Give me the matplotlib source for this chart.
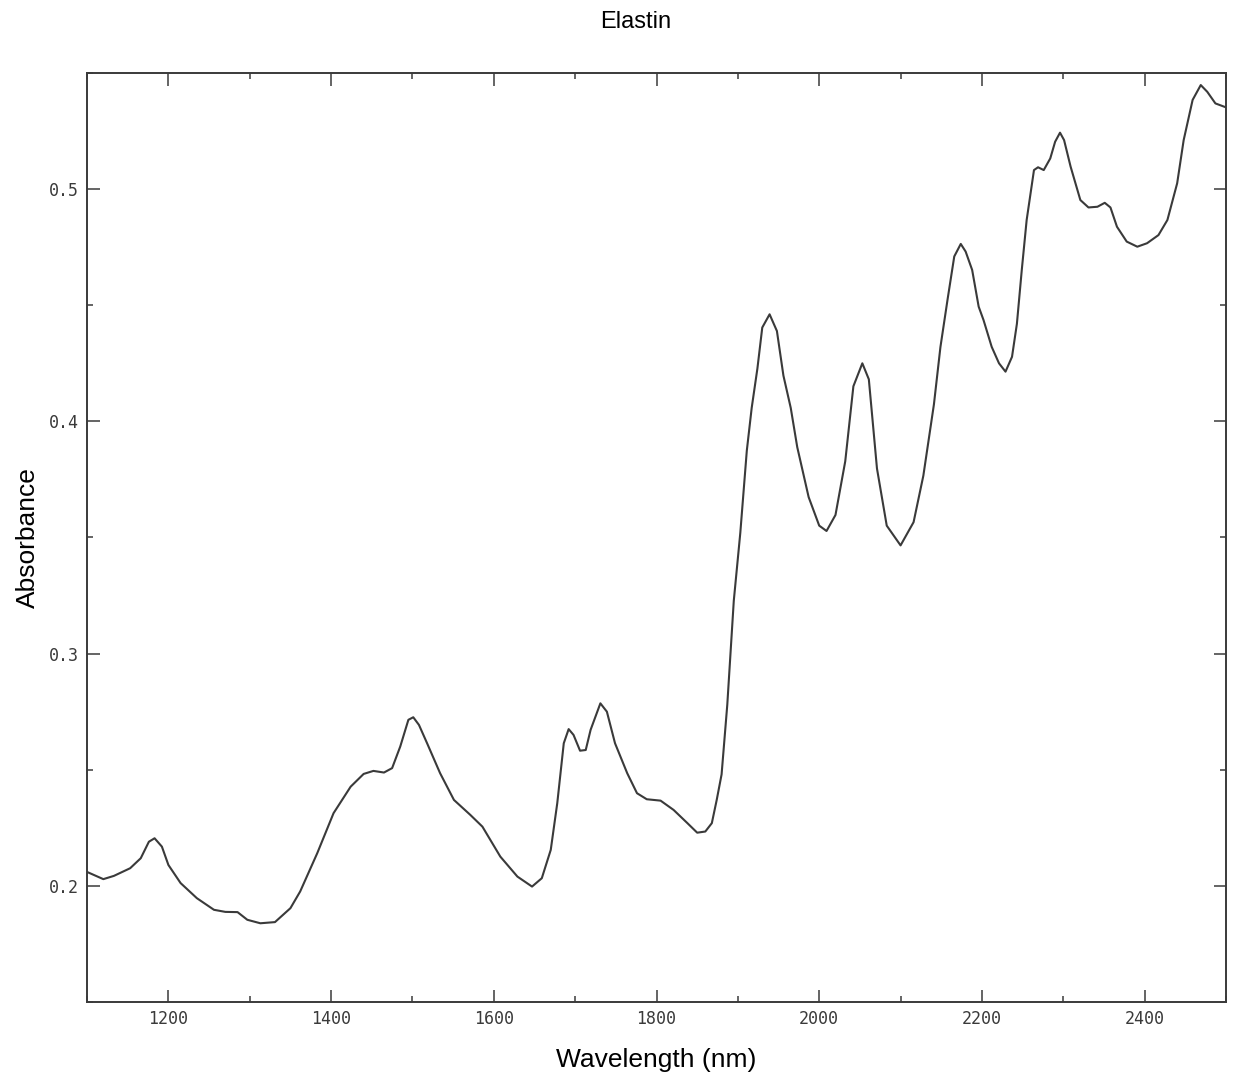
import matplotlib
matplotlib.use("Agg")
import matplotlib.pyplot as plt
from matplotlib.ticker import MultipleLocator

# spectrum (nm, absorbance)
wavelength = [1100, 1120, 1133, 1153, 1166, 1176, 1183, 1192, 1200, 1215,
              1235, 1256, 1270, 1285, 1297, 1313, 1331, 1350, 1362, 1383,
              1403, 1424, 1440, 1452, 1465, 1475, 1485, 1495, 1501, 1508,
              1518, 1534, 1551, 1571, 1586, 1608, 1629, 1647, 1659, 1670,
              1678, 1686, 1692, 1698, 1706, 1713, 1719, 1731, 1739, 1749,
              1764, 1776, 1788, 1805, 1821, 1838, 1850, 1860, 1868, 1874,
              1880, 1887, 1895, 1903, 1911, 1917, 1924, 1930, 1939, 1948,
              1956, 1965, 1973, 1979, 1987, 2000, 2009, 2020, 2032, 2042,
              2053, 2061, 2071, 2083, 2100, 2116, 2128, 2141, 2149, 2158,
              2166, 2174, 2180, 2188, 2196, 2202, 2212, 2221, 2229, 2237,
              2243, 2249, 2255, 2264, 2269, 2276, 2284, 2290, 2296, 2301,
              2309, 2321, 2331, 2342, 2351, 2358, 2366, 2378, 2391, 2403,
              2417, 2428, 2440, 2448, 2459, 2469, 2477, 2487, 2500]
absorbance = [0.2060, 0.2029, 0.2043, 0.2076, 0.2119, 0.2190, 0.2205, 0.2169, 0.2090, 0.2012,
              0.1947, 0.1897, 0.1888, 0.1887, 0.1854, 0.1839, 0.1844, 0.1904, 0.1976, 0.2141,
              0.2313, 0.2427, 0.2482, 0.2495, 0.2488, 0.2507, 0.2600, 0.2715, 0.2726, 0.2693,
              0.2614, 0.2485, 0.2370, 0.2306, 0.2255, 0.2126, 0.2040, 0.1997, 0.2033, 0.2155,
              0.2356, 0.2614, 0.2675, 0.2650, 0.2582, 0.2585, 0.2672, 0.2786, 0.2750, 0.2614,
              0.2485, 0.2399, 0.2373, 0.2367, 0.2327, 0.2270, 0.2229, 0.2234, 0.2270, 0.2370,
              0.2480, 0.2780, 0.3228, 0.3520, 0.3874, 0.4058, 0.4227, 0.4404, 0.4461, 0.4389,
              0.4197, 0.4058, 0.3889, 0.3797, 0.3674, 0.3551, 0.3528, 0.3597, 0.3828, 0.4151,
              0.4250, 0.4181, 0.3797, 0.3551, 0.3466, 0.3566, 0.3766, 0.4073, 0.4320, 0.4530,
              0.4710, 0.4764, 0.4731, 0.4652, 0.4494, 0.4436, 0.4321, 0.4250, 0.4214, 0.4278,
              0.4420, 0.4652, 0.4867, 0.5082, 0.5094, 0.5082, 0.5132, 0.5204, 0.5243, 0.5211,
              0.5097, 0.4953, 0.4921, 0.4924, 0.4941, 0.4921, 0.4838, 0.4774, 0.4752, 0.4767,
              0.4802, 0.4867, 0.5025, 0.5211, 0.5384, 0.5448, 0.5419, 0.5369, 0.5352]

title = "Elastin"
xlabel = "Wavelength (nm)"
ylabel = "Absorbance"

ink = "#3a3a3a"

fig = plt.figure(figsize=(12.33, 10.78), dpi=100)
ax = fig.add_axes([0.0706, 0.0705, 0.9237, 0.8618])

ax.plot(wavelength, absorbance, color=ink, lw=1.5)

ax.set_xlim(1100, 2500)
ax.set_ylim(0.15, 0.55)

ax.xaxis.set_major_locator(MultipleLocator(200))
ax.xaxis.set_minor_locator(MultipleLocator(100))
ax.yaxis.set_major_locator(MultipleLocator(0.1))
ax.yaxis.set_minor_locator(MultipleLocator(0.05))
ax.set_yticks([0.2, 0.3, 0.4, 0.5])
ax.set_yticklabels(["0.2", "0.3", "0.4", "0.5"])

for s in ax.spines.values():
    s.set_color(ink)
    s.set_linewidth(1.4)

ax.tick_params(which="both", direction="in", top=True, right=True, color=ink, width=1.1)
ax.tick_params(which="major", length=9)
ax.tick_params(which="minor", length=4.5)
ax.tick_params(labelsize=12, labelcolor=ink, pad=6)
for lab in ax.get_xticklabels() + ax.get_yticklabels():
    lab.set_family("DejaVu Sans Mono")

ax.set_xlabel(xlabel, family="Liberation Sans", fontsize=19, labelpad=14)
ax.set_ylabel(ylabel, family="Liberation Sans", fontsize=19, labelpad=6)
fig.text(0.5155, 0.980, title, family="Liberation Sans", fontsize=17, ha="center", va="center")

fig.savefig("out.png", dpi=100)
